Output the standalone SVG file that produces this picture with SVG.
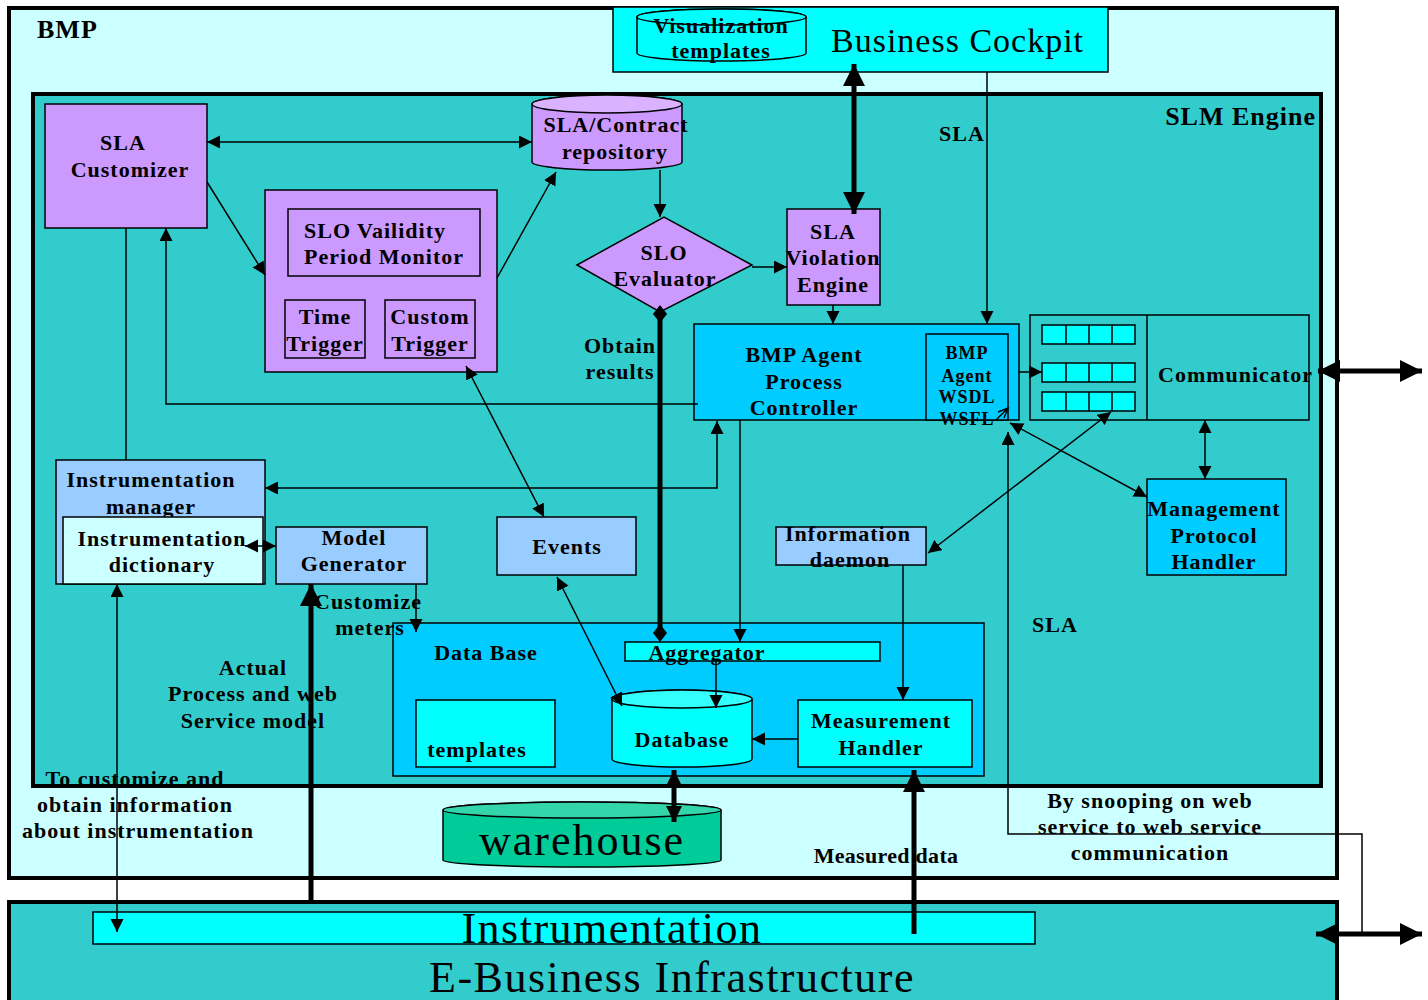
<svg xmlns="http://www.w3.org/2000/svg" width="1428" height="1000" viewBox="0 0 1428 1000">
  <style>
    text { font-family: "Liberation Serif", "Times New Roman", serif; fill: #000; }
    .b { font-weight: bold; font-size: 22px; letter-spacing: 1px; }
    .m { text-anchor: middle; }
    .big { font-size: 44px; letter-spacing: 1.5px; text-anchor: middle; }
    .ln { fill: none; stroke: #000; stroke-width: 1.5; }
    .thick { fill: none; stroke: #000; stroke-width: 5; }
    .box { stroke: #000; stroke-width: 1.5; }
    .purple { fill: #CC99FF; }
    .blue { fill: #00CCFF; }
    .lblue { fill: #99CCFF; }
    .cyan { fill: #00FFFF; }
    .pale { fill: #CCFFFF; }
    .teal { fill: #33CCCC; }
  </style>
  <defs>
    <marker id="a" markerUnits="userSpaceOnUse" markerWidth="14" markerHeight="14" refX="13" refY="6.5" orient="auto-start-reverse">
      <path d="M0,0 L13,6.5 L0,13 z" fill="#000"/>
    </marker>
    <marker id="M" markerUnits="userSpaceOnUse" markerWidth="18" markerHeight="18" refX="16" refY="8" orient="auto-start-reverse">
      <path d="M0,0 L16,8 L0,16 z" fill="#000"/>
    </marker>
    <marker id="A" markerUnits="userSpaceOnUse" markerWidth="24" markerHeight="24" refX="22" refY="11" orient="auto-start-reverse">
      <path d="M0,0 L22,11 L0,22 z" fill="#000"/>
    </marker>
    <marker id="d" markerUnits="userSpaceOnUse" markerWidth="20" markerHeight="16" refX="9" refY="7" orient="auto">
      <path d="M0,7 L9,0 L18,7 L9,14 z" fill="#000"/>
    </marker>
  </defs>

  <rect width="1428" height="1000" fill="#fff"/>

  <!-- BMP container -->
  <g id="bmp">
    <rect x="9" y="8" width="1328" height="870" class="pale" stroke="#000" stroke-width="4"/>
    <text x="37" y="38" class="b" style="font-size:26px">BMP</text>
  </g>

  <!-- Business Cockpit -->
  <g id="business-cockpit">
    <rect x="613" y="7" width="495" height="65" class="cyan box"/>
    <path d="M637,17 A84.5,8 0 0 1 806,17 V53 A84.5,8 0 0 1 637,53 Z" class="cyan box"/>
    <ellipse cx="721.5" cy="17" rx="84.5" ry="8" class="cyan box"/>
    <text x="721" y="33" class="b m">Visualization</text>
    <text x="721" y="58" class="b m">templates</text>
    <text x="831" y="52" style="font-size:34px;letter-spacing:1px">Business Cockpit</text>
  </g>

  <!-- SLM Engine container -->
  <g id="slm-engine">
    <rect x="33" y="94" width="1288" height="692" class="teal" stroke="#000" stroke-width="4"/>
    <text x="1316" y="125" class="b" style="font-size:26px;text-anchor:end">SLM Engine</text>
  </g>

  <g id="sla-customizer">
    <rect x="45" y="104" width="162" height="124" class="purple box"/>
    <text x="123" y="150" class="b m">SLA</text>
    <text x="130" y="177" class="b m">Customizer</text>
  </g>

  <g id="slo-monitor">
    <rect x="265" y="190" width="232" height="182" class="purple box"/>
    <rect x="288" y="209" width="192" height="67" class="purple box"/>
    <text x="304" y="238" class="b">SLO Vailidity</text>
    <text x="304" y="264" class="b">Period Monitor</text>
  </g>
  <g id="time-trigger">
    <rect x="285" y="300" width="80" height="58" class="purple box"/>
    <text x="325" y="324" class="b m">Time</text>
    <text x="325" y="351" class="b m">Trigger</text>
  </g>
  <g id="custom-trigger">
    <rect x="385" y="300" width="90" height="58" class="purple box"/>
    <text x="430" y="324" class="b m">Custom</text>
    <text x="430" y="351" class="b m">Trigger</text>
  </g>

  <g id="sla-contract-repository">
    <path d="M532,104 A75,9 0 0 1 682,104 V162 A75,8 0 0 1 532,162 Z" class="purple box"/>
    <ellipse cx="607" cy="104" rx="75" ry="9" fill="#D9B3FF" stroke="#000" stroke-width="1.5"/>
    <text x="616" y="132" class="b m">SLA/Contract</text>
    <text x="615" y="159" class="b m">repository</text>
  </g>

  <g id="slo-evaluator">
    <polygon points="577,265 664,217 752,265 660,312" class="purple box"/>
    <text x="664" y="260" class="b m">SLO</text>
    <text x="665" y="286" class="b m">Evaluator</text>
  </g>

  <g id="sla-violation-engine">
    <rect x="787" y="209" width="93" height="96" class="purple box"/>
    <text x="833" y="239" class="b m">SLA</text>
    <text x="833" y="265" class="b m">Violation</text>
    <text x="833" y="292" class="b m">Engine</text>
  </g>

  <g id="bmp-agent-process-controller">
    <rect x="694" y="324" width="325" height="96" class="blue box"/>
    <text x="804" y="362" class="b m">BMP Agent</text>
    <text x="804" y="389" class="b m">Process</text>
    <text x="804" y="415" class="b m">Controller</text>
  </g>

  <g id="bmp-agent-wsdl">
    <rect x="926" y="334" width="82" height="86" class="blue box"/>
    <path d="M996,420 L1008,408 M998,412 L1008,408 L1004,418" class="ln" stroke-width="1"/>
    <text x="967" y="359" class="b m" style="font-size:18px">BMP</text>
    <text x="967" y="382" class="b m" style="font-size:18px">Agent</text>
    <text x="967" y="403" class="b m" style="font-size:18px">WSDL</text>
    <text x="967" y="425" class="b m" style="font-size:18px">WSFL</text>
  </g>

  <g id="communicator">
    <rect x="1030" y="315" width="279" height="105" class="teal box"/>
    <line x1="1147" y1="315" x2="1147" y2="420" class="ln"/>
    <g class="cyan box">
      <rect x="1042" y="325" width="93" height="19"/>
      <rect x="1042" y="363" width="93" height="19"/>
      <rect x="1042" y="392" width="93" height="19"/>
    </g>
    <path d="M1066,325 V344 M1089,325 V344 M1112,325 V344 M1066,363 V382 M1089,363 V382 M1112,363 V382 M1066,392 V411 M1089,392 V411 M1112,392 V411" class="ln"/>
    <text x="1158" y="382" class="b">Communicator</text>
  </g>

  <g id="management-protocol-handler">
    <rect x="1147" y="479" width="139" height="96" class="blue box"/>
    <text x="1214" y="516" class="b m">Management</text>
    <text x="1214" y="543" class="b m">Protocol</text>
    <text x="1214" y="569" class="b m">Handler</text>
  </g>

  <g id="instrumentation-manager">
    <rect x="56" y="460" width="209" height="124" class="lblue box"/>
    <text x="151" y="487" class="b m">Instrumentation</text>
    <text x="151" y="514" class="b m">manager</text>
  </g>
  <g id="instrumentation-dictionary">
    <rect x="63" y="517" width="200" height="67" class="pale box"/>
    <text x="162" y="546" class="b m">Instrumentation</text>
    <text x="162" y="572" class="b m">dictionary</text>
  </g>

  <g id="model-generator">
    <rect x="276" y="527" width="151" height="57" class="lblue box"/>
    <text x="354" y="545" class="b m">Model</text>
    <text x="354" y="571" class="b m">Generator</text>
  </g>

  <g id="events">
    <rect x="497" y="517" width="139" height="58" class="lblue box"/>
    <text x="567" y="554" class="b m">Events</text>
  </g>

  <g id="information-daemon">
    <rect x="776" y="527" width="150" height="38" class="lblue box"/>
    <text x="848" y="541" class="b m">Information</text>
    <text x="850" y="567" class="b m">daemon</text>
  </g>

  <g id="data-base">
    <rect x="393" y="623" width="591" height="153" class="blue box"/>
    <text x="486" y="660" class="b m">Data Base</text>
  </g>
  <g id="aggregator">
    <rect x="625" y="642" width="255" height="19" class="cyan box"/>
    <text x="707" y="660" class="b m">Aggregator</text>
  </g>
  <g id="templates">
    <rect x="416" y="700" width="139" height="67" class="cyan box"/>
    <text x="477" y="757" class="b m">templates</text>
  </g>
  <g id="database">
    <path d="M612,699 A70,9 0 0 1 752,699 V759 A70,8 0 0 1 612,759 Z" class="cyan box"/>
    <ellipse cx="682" cy="699" rx="70" ry="9" fill="#33FFFF" stroke="#000" stroke-width="1.5"/>
    <text x="682" y="747" class="b m">Database</text>
  </g>
  <g id="measurement-handler">
    <rect x="798" y="700" width="174" height="67" class="cyan box"/>
    <text x="881" y="728" class="b m">Measurement</text>
    <text x="881" y="755" class="b m">Handler</text>
  </g>

  <g id="warehouse">
    <path d="M443,810 A139,8 0 0 1 721,810 V860 A139,7 0 0 1 443,860 Z" fill="#00CC99" stroke="#000" stroke-width="1.5"/>
    <ellipse cx="582" cy="810" rx="139" ry="8" fill="#33D6AA" stroke="#000" stroke-width="1.5"/>
    <text x="582" y="855" style="font-size:44px;letter-spacing:2px;text-anchor:middle">warehouse</text>
  </g>

  <!-- E-Business Infrastructure with the instrumentation layer -->
  <g id="e-business-infrastructure">
    <rect x="9" y="902" width="1328" height="110" class="teal" stroke="#000" stroke-width="4"/>
    <rect x="93" y="912" width="942" height="32" class="cyan box"/>
    <text x="612" y="943" class="big">Instrumentation</text>
    <text x="672" y="992" class="big">E-Business Infrastructure</text>
  </g>

  <!-- free labels -->
  <g id="labels" class="b">
    <text x="962" y="141" class="b m">SLA</text>
    <text x="620" y="353" class="b m">Obtain</text>
    <text x="620" y="379" class="b m">results</text>
    <text x="368" y="609" class="b m">Customize</text>
    <text x="370" y="635" class="b m">meters</text>
    <text x="253" y="675" class="b m">Actual</text>
    <text x="253" y="701" class="b m">Process and web</text>
    <text x="253" y="728" class="b m">Service model</text>
    <text x="1055" y="632" class="b m">SLA</text>
    <text x="135" y="786" class="b m">To customize and</text>
    <text x="135" y="812" class="b m">obtain information</text>
    <text x="138" y="838" class="b m">about instrumentation</text>
    <text x="886" y="863" class="b m" style="letter-spacing:0.3px">Measured data</text>
    <text x="1150" y="808" class="b m">By snooping on web</text>
    <text x="1150" y="834" class="b m">service to web service</text>
    <text x="1150" y="860" class="b m">communication</text>
  </g>

  <!-- connectors -->
  <g id="connectors">
    <path d="M207,142 H532" class="ln" marker-start="url(#a)" marker-end="url(#a)"/>
    <path d="M207,182 L265,275" class="ln" marker-end="url(#a)"/>
    <path d="M497,278 L556,172" class="ln" marker-end="url(#a)"/>
    <path d="M660,170 V217" class="ln" marker-end="url(#a)"/>
    <path d="M752,267 H787" class="ln" marker-end="url(#a)"/>
    <path d="M854,64 V214" class="thick" stroke-width="6" marker-start="url(#A)" marker-end="url(#A)"/>
    <path d="M833,305 V324" class="ln" marker-end="url(#a)"/>
    <path d="M987,72 V324" class="ln" marker-end="url(#a)"/>
    <path d="M698,404 H166 V228" class="ln" marker-end="url(#a)"/>
    <path d="M126,228 V460" class="ln"/>
    <path d="M265,488 H717 V421" class="ln" marker-start="url(#a)" marker-end="url(#a)"/>
    <path d="M466,366 L544,517" class="ln" marker-start="url(#a)" marker-end="url(#a)"/>
    <path d="M660,314 V633" class="thick" marker-start="url(#d)" marker-end="url(#d)"/>
    <path d="M740,420 V642" class="ln" marker-end="url(#a)"/>
    <path d="M557,577 L622,706" class="ln" marker-start="url(#a)" marker-end="url(#a)"/>
    <path d="M716,661 V708" class="ln" marker-end="url(#a)"/>
    <path d="M798,739 H752" class="ln" marker-end="url(#a)"/>
    <path d="M903,565 V700" class="ln" marker-end="url(#a)"/>
    <path d="M1111,412 L928,553" class="ln" marker-start="url(#a)" marker-end="url(#a)"/>
    <path d="M1010,423 L1147,497" class="ln" marker-start="url(#a)" marker-end="url(#a)"/>
    <path d="M1205,420 V479" class="ln" marker-start="url(#a)" marker-end="url(#a)"/>
    <path d="M1019,372 H1042" class="ln" marker-end="url(#a)"/>
    <path d="M1318,371 H1422" class="thick" stroke-width="4" marker-start="url(#A)" marker-end="url(#A)"/>
    <path d="M1362,934 V834 H1008 V432" class="ln" marker-end="url(#a)"/>
    <path d="M1316,934 H1422" class="thick" stroke-width="4" marker-start="url(#A)" marker-end="url(#A)"/>
    <path d="M914,934 V770" class="thick" marker-end="url(#A)"/>
    <path d="M674,770 V822" class="thick" stroke-width="4" marker-start="url(#M)" marker-end="url(#M)"/>
    <path d="M311,900 V584" class="thick" marker-end="url(#A)"/>
    <path d="M117,584 V932" class="ln" marker-start="url(#a)" marker-end="url(#a)"/>
    <path d="M245,546 H276" class="ln" marker-start="url(#a)" marker-end="url(#a)"/>
    <path d="M416,584 V632" class="ln" marker-end="url(#a)"/>
  </g>
</svg>
